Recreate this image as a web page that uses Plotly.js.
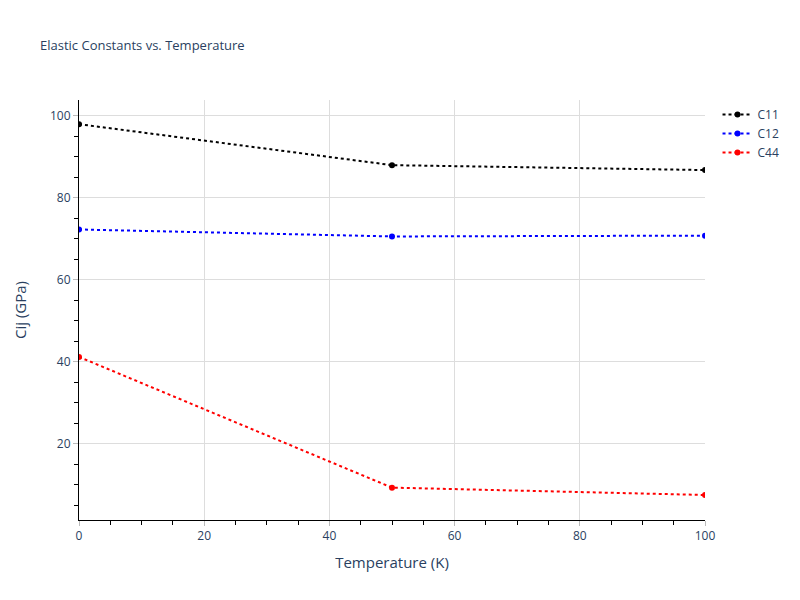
<!DOCTYPE html>
<html>
<head>
<meta charset="utf-8">
<script src="https://cdn.plot.ly/plotly-3.0.1.min.js"></script>
<style>body{margin:0;padding:0;}#chart{width:800px;height:600px;}</style>
</head>
<body>
<div id="chart"></div>
<script>
const temperature = [0, 50, 100];
const c11 = [98.0, 88.0, 86.8];
const c12 = [72.3, 70.6, 70.8];
const c44 = [41.2, 9.3, 7.5];
const seriesNames = ["C11", "C12", "C44"];
const seriesColors = ["black", "blue", "red"];
const seriesValues = [c11, c12, c44];

const traces = seriesValues.map((vals, i) => ({
  x: temperature,
  y: vals,
  type: "scatter",
  mode: "lines+markers",
  name: seriesNames[i],
  line: {color: seriesColors[i], dash: "dot", width: 2},
  marker: {color: seriesColors[i], size: 6}
}));

const layout = {
  width: 800,
  height: 600,
  paper_bgcolor: "white",
  plot_bgcolor: "white",
  margin: {l: 79, r: 95, t: 100, b: 80},
  title: {text: "Elastic Constants vs. Temperature", x: 0.05, xanchor: "left", y: 0.932, font: {size: 13, color: "#2a3f5f"}},
  font: {family: "'Open Sans', verdana, arial, sans-serif", color: "#2a3f5f", size: 12},
  xaxis: {
    title: {text: "Temperature (K)", font: {size: 15}, standoff: 14},
    range: [0, 100],
    showline: true, linecolor: "black", linewidth: 1,
    showgrid: true, gridcolor: "#dddddd",
    ticks: "outside", tickcolor: "#bbbbbb", ticklen: 5,
    minor: {ticks: "outside", ticklen: 4, tickcolor: "black", dtick: 5, showgrid: false},
    zeroline: false
  },
  yaxis: {
    title: {text: "Cij (GPa)", font: {size: 15}, standoff: 19},
    range: [1.4, 103.9],
    showline: true, linecolor: "black", linewidth: 1,
    showgrid: true, gridcolor: "#dddddd",
    ticks: "outside", tickcolor: "#bbbbbb", ticklen: 5,
    dtick: 20,
    minor: {ticks: "outside", ticklen: 4, tickcolor: "black", dtick: 5, showgrid: false},
    zeroline: false
  },
  legend: {font: {size: 12}},
  showlegend: true
};

Plotly.newPlot("chart", traces, layout, {displayModeBar: false});
</script>
</body>
</html>
